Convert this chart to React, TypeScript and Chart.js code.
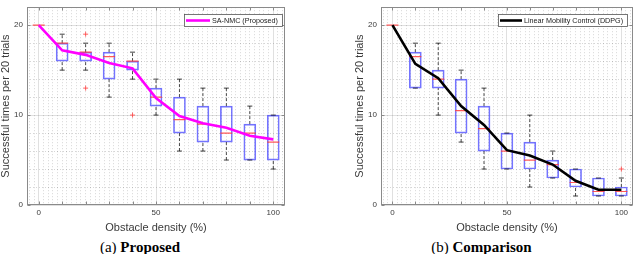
import React, { useEffect, useRef } from 'react';
import { Chart, registerables } from 'chart.js';

Chart.register(...registerables);

const densities = [0, 10, 20, 30, 40, 50, 60, 70, 80, 90, 100];
const xTickValues = [0, 50, 100];
const yTickValues = [0, 10, 20];
const xMinorValues = [-4, -2, 2, 4, 6, 8, 10, 12, 14, 16, 18, 20, 22, 24, 26, 28, 30, 32, 34, 36, 38, 40, 42, 44, 46, 48, 52, 54, 56, 58, 60, 62, 64, 66, 68, 70, 72, 74, 76, 78, 80, 82, 84, 86, 88, 90, 92, 94, 96, 98, 102, 104];
const yMinorValues = [2, 4, 6, 8, 12, 14, 16, 18, 22];

// (a) Proposed: SA-NMC
const propMin = [20, 15, 15, 12, 14, 10, 6, 6, 5, 5, 4];
const propQ1 = [20, 16, 16, 14, 15, 11, 8, 7, 7, 5, 5];
const propMedian = [20, 18, 17, 16.5, 16, 12, 9.5, 9, 8, 8, 7];
const propQ3 = [20, 18, 17, 17, 16, 13, 12, 11, 11, 9, 10];
const propMax = [20, 19, 18, 18, 17, 14, 14, 13, 13, 11, 10];
const propOutlierX = [20, 20, 40];
const propOutlierY = [19, 13, 10];
const propMean = [20, 17.2, 16.7, 15.8, 15.2, 11.9, 9.9, 9.1, 8.6, 7.7, 7.3];

// (b) Comparison: Linear Mobility Control (DDPG)
const compMin = [20, 13, 10, 7, 4, 4, 2, 3, 1, 1, 1];
const compQ1 = [20, 13, 13, 8, 6, 4, 4, 3, 2, 1, 1];
const compMedian = [20, 16.5, 14, 10.5, 8.5, 6, 5, 4.5, 2.5, 1.5, 1.5];
const compQ3 = [20, 17, 15, 14, 11, 8, 7, 5, 4, 3, 2];
const compMax = [20, 18, 18, 15, 13, 8, 10, 6, 4, 3, 3];
const compOutlierX = [100];
const compOutlierY = [4];
const compMean = [20, 15.7, 14.1, 11.0, 8.9, 6.1, 5.5, 4.5, 2.7, 1.7, 1.7];

const FONT = "'Liberation Sans', Arial, Helvetica, sans-serif";
const FRAME = '#8a8a8a';
const TEXT = '#3a3a3a';

const framePlugin = {
  id: 'frameTicks',
  afterDatasetsDraw(chart: any) {
    const { ctx, chartArea } = chart;
    const xs = chart.scales.x;
    const ys = chart.scales.y;
    const L = Math.round(chartArea.left) + 0.5;
    const R = Math.round(chartArea.right) - 0.5;
    const T = Math.round(chartArea.top) + 0.5;
    const B = Math.round(chartArea.bottom) - 0.5;
    ctx.save();
    ctx.strokeStyle = FRAME;
    ctx.lineWidth = 1;
    ctx.strokeRect(L, T, R - L, B - T);
    ctx.beginPath();
    densities.forEach((v) => {
      const px = Math.round(xs.getPixelForValue(v)) + 0.5;
      ctx.moveTo(px, B);
      ctx.lineTo(px, B - 3);
      ctx.moveTo(px, T);
      ctx.lineTo(px, T + 3);
    });
    yTickValues.forEach((v) => {
      const py = Math.round(ys.getPixelForValue(v)) + 0.5;
      ctx.moveTo(L, py);
      ctx.lineTo(L + 3, py);
      ctx.moveTo(R, py);
      ctx.lineTo(R - 3, py);
    });
    ctx.stroke();
    ctx.restore();
  },
};

const legendPlugin = {
  id: 'meanLegend',
  afterDraw(chart: any, _args: any, opts: any) {
    const { ctx, chartArea } = chart;
    const ds = chart.data.datasets[opts.datasetIndex];
    ctx.save();
    ctx.font = `7.2px ${FONT}`;
    const tw = ctx.measureText(ds.label).width;
    const w = Math.round(2 + opts.sample + 2 + tw + 4);
    const h = 12;
    const x1 = Math.round(chartArea.right - opts.marginRight);
    const x0 = x1 - w;
    const y0 = Math.round(chartArea.top + 7);
    ctx.fillStyle = '#ffffff';
    ctx.fillRect(x0, y0, w, h);
    ctx.strokeStyle = '#555555';
    ctx.lineWidth = 0.8;
    ctx.strokeRect(x0 + 0.5, y0 + 0.5, w, h);
    ctx.strokeStyle = ds.borderColor;
    ctx.lineWidth = ds.borderWidth;
    ctx.beginPath();
    ctx.moveTo(x0 + 2, y0 + h / 2 + 0.5);
    ctx.lineTo(x0 + 2 + opts.sample, y0 + h / 2 + 0.5);
    ctx.stroke();
    ctx.fillStyle = '#222222';
    ctx.textBaseline = 'middle';
    ctx.textAlign = 'left';
    ctx.fillText(ds.label, x0 + 4 + opts.sample, y0 + h / 2 + 1);
    ctx.restore();
  },
};

type PanelData = {
  min: number[];
  q1: number[];
  median: number[];
  q3: number[];
  max: number[];
  outX: number[];
  outY: number[];
  mean: number[];
  meanLabel: string;
  meanColor: string;
  padLeft: number;
  padRight: number;
  legendMargin: number;
  legendSample: number;
};

function buildConfig(p: PanelData): any {
  const boxes = densities.map((x, i) => ({ x, y: [p.q1[i], p.q3[i]] }));
  const whiskers: any[] = [];
  densities.forEach((x, i) => {
    if (p.max[i] > p.q3[i]) whiskers.push({ x, y: p.q3[i] }, { x, y: p.max[i] }, { x, y: null });
    if (p.min[i] < p.q1[i]) whiskers.push({ x, y: p.min[i] }, { x, y: p.q1[i] }, { x, y: null });
  });
  const caps: any[] = [];
  densities.forEach((x, i) => {
    if (i === 0) return;
    caps.push({ x, y: p.max[i] }, { x, y: p.min[i] });
  });
  const medians = densities.map((x, i) => ({ x, y: p.median[i] }));
  const outliers = p.outX.map((x, i) => ({ x, y: p.outY[i] }));
  const means = densities.map((x, i) => ({ x, y: p.mean[i] }));

  return {
    type: 'scatter',
    data: {
      datasets: [
        {
          type: 'bar',
          label: 'box',
          data: boxes,
          xAxisID: 'x',
          yAxisID: 'y',
          backgroundColor: 'rgba(0,0,0,0)',
          borderColor: 'rgba(70,70,255,0.75)',
          borderWidth: 1,
          borderSkipped: false,
          barThickness: 12,
          grouped: false,
          order: 5,
        },
        {
          type: 'line',
          label: 'whiskers',
          data: whiskers,
          xAxisID: 'x',
          yAxisID: 'y',
          borderColor: 'rgba(0,0,0,0.7)',
          borderWidth: 1,
          borderDash: [3, 2],
          pointRadius: 0,
          spanGaps: false,
          fill: false,
          order: 4,
        },
        {
          type: 'scatter',
          label: 'caps',
          data: caps,
          xAxisID: 'x',
          yAxisID: 'y',
          pointStyle: 'line',
          pointRadius: 2.5,
          borderColor: 'rgba(0,0,0,0.75)',
          backgroundColor: 'rgba(0,0,0,0.75)',
          borderWidth: 1,
          order: 3,
        },
        {
          type: 'scatter',
          label: 'median',
          data: medians,
          xAxisID: 'x',
          yAxisID: 'y',
          pointStyle: 'line',
          pointRadius: 6,
          borderColor: 'rgba(255,60,60,0.85)',
          backgroundColor: 'rgba(255,60,60,0.85)',
          borderWidth: 1.2,
          order: 2,
        },
        {
          type: 'scatter',
          label: 'outliers',
          data: outliers,
          xAxisID: 'x',
          yAxisID: 'y',
          pointStyle: 'cross',
          pointRadius: 2.5,
          borderColor: 'rgba(255,70,70,0.85)',
          backgroundColor: 'rgba(255,70,70,0.85)',
          borderWidth: 1,
          order: 1,
        },
        {
          type: 'line',
          label: p.meanLabel,
          data: means,
          xAxisID: 'x',
          yAxisID: 'y',
          borderColor: p.meanColor,
          borderWidth: 2.6,
          pointRadius: 0,
          tension: 0,
          fill: false,
          order: 0,
        },
      ],
    },
    options: {
      responsive: false,
      maintainAspectRatio: false,
      animation: false,
      events: [],
      layout: { padding: { top: 1, right: p.padRight, left: p.padLeft, bottom: 0 } },
      plugins: {
        legend: { display: false },
        tooltip: { enabled: false },
        title: { display: false },
        meanLegend: { datasetIndex: 5, marginRight: p.legendMargin, sample: p.legendSample },
      },
      scales: {
        x: {
          type: 'linear',
          position: 'bottom',
          min: -5,
          max: 105,
          offset: false,
          afterBuildTicks: (s: any) => {
            s.ticks = xTickValues.map((v) => ({ value: v }));
          },
          afterFit: (s: any) => {
            s.height = 31;
            s.paddingLeft = 0;
            s.paddingRight = 0;
          },
          ticks: { font: { family: FONT, size: 8 }, color: TEXT, padding: 3, maxRotation: 0, autoSkip: false },
          grid: { color: 'rgba(0,0,0,0.12)', lineWidth: 1, drawTicks: false, offset: false },
          border: { display: false },
          title: {
            display: true,
            text: 'Obstacle density (%)',
            font: { family: FONT, size: 11, lineHeight: 1.2 },
            color: TEXT,
            padding: { top: 0, bottom: 1.4 },
          },
        },
        y: {
          type: 'linear',
          position: 'left',
          min: 0,
          max: 22,
          afterBuildTicks: (s: any) => {
            s.ticks = yTickValues.map((v) => ({ value: v }));
          },
          afterFit: (s: any) => {
            s.width = 27;
            s.paddingTop = 0;
            s.paddingBottom = 0;
          },
          ticks: { font: { family: FONT, size: 8 }, color: TEXT, padding: 4 },
          grid: { color: 'rgba(0,0,0,0.12)', lineWidth: 1, drawTicks: false },
          border: { display: false },
          title: {
            display: true,
            text: 'Successful times per 20 trials',
            font: { family: FONT, size: 11, lineHeight: 1 },
            color: TEXT,
            padding: { top: 0, bottom: 0 },
          },
        },
        xMinor: {
          type: 'linear',
          axis: 'x',
          position: 'bottom',
          min: -5,
          max: 105,
          offset: false,
          afterBuildTicks: (s: any) => {
            s.ticks = xMinorValues.map((v) => ({ value: v }));
          },
          afterFit: (s: any) => {
            s.height = 0;
            s.paddingLeft = 0;
            s.paddingRight = 0;
          },
          ticks: { display: false },
          grid: { color: 'rgba(0,0,0,0.16)', lineWidth: 1, drawTicks: false, offset: false },
          border: { display: false, dash: [1, 2] },
        },
        yMinor: {
          type: 'linear',
          axis: 'y',
          position: 'left',
          min: 0,
          max: 22,
          afterBuildTicks: (s: any) => {
            s.ticks = yMinorValues.map((v) => ({ value: v }));
          },
          afterFit: (s: any) => {
            s.width = 0;
            s.paddingTop = 0;
            s.paddingBottom = 0;
          },
          ticks: { display: false },
          grid: { color: 'rgba(0,0,0,0.16)', lineWidth: 1, drawTicks: false },
          border: { display: false, dash: [1, 2] },
        },
      },
    },
    plugins: [framePlugin, legendPlugin],
  };
}

function BoxPanel({ data }: { data: PanelData }) {
  const ref = useRef<HTMLCanvasElement>(null);
  useEffect(() => {
    const chart = new Chart(ref.current as HTMLCanvasElement, buildConfig(data));
    return () => chart.destroy();
  }, [data]);
  return <canvas ref={ref} width={320} height={236} style={{ display: 'block', width: 320, height: 236 }} />;
}

const proposed: PanelData = {
  min: propMin,
  q1: propQ1,
  median: propMedian,
  q3: propQ3,
  max: propMax,
  outX: propOutlierX,
  outY: propOutlierY,
  mean: propMean,
  meanLabel: 'SA-NMC (Proposed)',
  meanColor: '#ff00ff',
  padLeft: 0,
  padRight: 35,
  legendMargin: 3,
  legendSample: 24,
};

const comparison: PanelData = {
  min: compMin,
  q1: compQ1,
  median: compMedian,
  q3: compQ3,
  max: compMax,
  outX: compOutlierX,
  outY: compOutlierY,
  mean: compMean,
  meanLabel: 'Linear Mobility Control (DDPG)',
  meanColor: '#000000',
  padLeft: 34,
  padRight: 1,
  legendMargin: 6,
  legendSample: 22,
};

const captionStyle: React.CSSProperties = {
  position: 'absolute',
  top: 239,
  textAlign: 'center',
  fontFamily: "'Liberation Serif', 'Times New Roman', serif",
  fontSize: 15,
  lineHeight: '16px',
  color: '#000',
  whiteSpace: 'nowrap',
};

export default function App() {
  return (
    <div style={{ position: 'absolute', left: 0, top: 0, width: 640, height: 254, background: '#fff', overflow: 'hidden' }}>
      <div style={{ position: 'absolute', left: 0, top: 0 }}>
        <BoxPanel data={proposed} />
      </div>
      <div style={{ position: 'absolute', left: 320, top: 0 }}>
        <BoxPanel data={comparison} />
      </div>
      <div style={{ ...captionStyle, left: 0, width: 280 }}>
        (a) <b>Proposed</b>
      </div>
      <div style={{ ...captionStyle, left: 361.5, width: 240 }}>
        (b) <b>Comparison</b>
      </div>
    </div>
  );
}
